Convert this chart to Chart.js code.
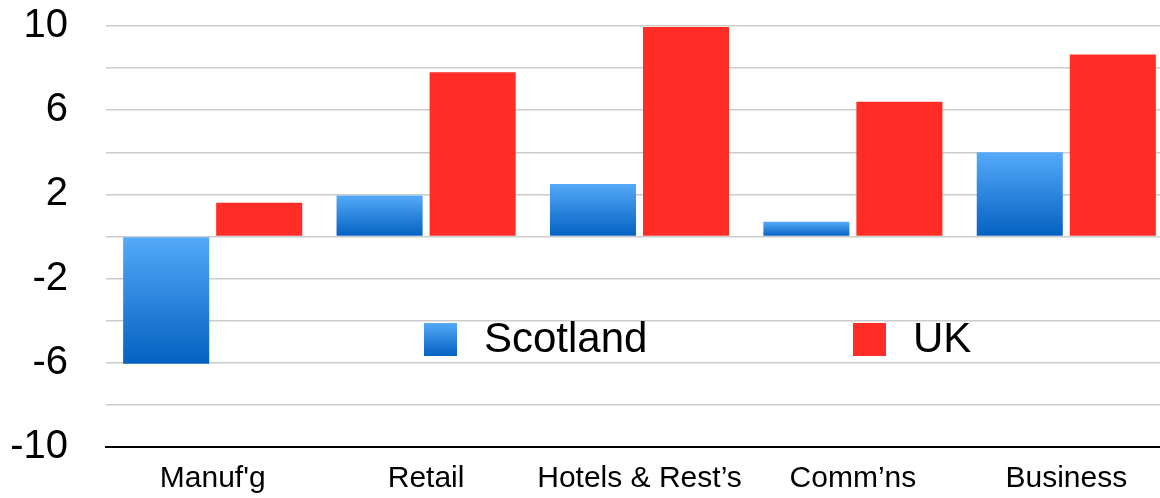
<!DOCTYPE html>
<html>
<head>
<meta charset="utf-8">
<script src="https://cdn.jsdelivr.net/npm/chart.js@4.4.0/dist/chart.umd.min.js"></script>
<style>
  html, body { margin: 0; padding: 0; background: #fff; overflow: hidden; }
  #wrap { width: 1173px; height: 498px; position: relative; }
</style>
</head>
<body>
<div id="wrap"><canvas id="chart"></canvas></div>
<script>
// ---------------- DATA ----------------
const categories = ["Manuf'g", 'Retail', 'Hotels & Rest\u2019s', 'Comm\u2019ns', 'Business'];
const scotland = [-6.05, 1.95, 2.5, 0.7, 4.0];
const uk = [1.6, 7.8, 9.95, 6.4, 8.65];
const yLabelled = [10, 6, 2, -2, -6, -10];

const FONT = "'Liberation Sans', Arial, Helvetica, sans-serif";
const RED = '#ff2d26';
const BLUE_TOP = '#55aaf9';
const BLUE_BOTTOM = '#0461c1';

// gradient light at top, dark at bottom of each bar
function blueGradient(ctx) {
  const chart = ctx.chart;
  if (!chart.chartArea || ctx.type !== 'data') return BLUE_BOTTOM;
  const y = chart.scales.y;
  const p0 = y.getPixelForValue(0);
  const p1 = y.getPixelForValue(ctx.raw);
  const g = chart.ctx.createLinearGradient(0, Math.min(p0, p1), 0, Math.max(p0, p1));
  g.addColorStop(0, BLUE_TOP);
  g.addColorStop(1, BLUE_BOTTOM);
  return g;
}

// legend drawn inside the plot area
const insideLegend = {
  id: 'insideLegend',
  afterDraw(chart) {
    const c = chart.ctx;
    const ca = chart.chartArea;
    const items = [
      { label: chart.data.datasets[0].label, x: ca.left + 318, fill: 'grad' },
      { label: chart.data.datasets[1].label, x: ca.left + 747, fill: RED }
    ];
    const top = 323, size = 33;
    c.save();
    items.forEach(it => {
      if (it.fill === 'grad') {
        const g = c.createLinearGradient(0, top, 0, top + size);
        g.addColorStop(0, BLUE_TOP);
        g.addColorStop(1, BLUE_BOTTOM);
        c.fillStyle = g;
      } else {
        c.fillStyle = it.fill;
      }
      c.fillRect(it.x, top, size, size);
      c.fillStyle = '#000';
      c.font = '42px ' + FONT;
      c.textBaseline = 'middle';
      c.textAlign = 'left';
      c.fillText(it.label, it.x + 60, top + size / 2 + 1);
    });
    c.restore();
  }
};

new Chart(document.getElementById('chart'), {
  type: 'bar',
  data: {
    labels: categories,
    datasets: [
      { label: 'Scotland', data: scotland, backgroundColor: blueGradient, borderWidth: 0 },
      { label: 'UK', data: uk, backgroundColor: RED, borderWidth: 0 }
    ]
  },
  options: {
    responsive: true,
    maintainAspectRatio: false,
    animation: false,
    categoryPercentage: 0.872,
    barPercentage: 0.925,
    layout: { padding: { top: 26, right: 0, bottom: 0, left: 0 } },
    plugins: {
      legend: { display: false },
      tooltip: { enabled: false }
    },
    scales: {
      x: {
        grid: { display: false, drawTicks: false },
        border: { display: true, color: '#000', width: 2 },
        ticks: { color: '#000', font: { family: FONT, size: 30 }, padding: 14, maxRotation: 0, autoSkip: false },
        afterFit: s => { s.height = 51; }
      },
      y: {
        min: -10,
        max: 10,
        // tick marks kept invisible, they only push the labels left
        grid: { color: '#cccccc', lineWidth: 1.5, drawTicks: true, tickLength: 38, tickColor: 'rgba(0,0,0,0)' },
        border: { display: false },
        ticks: {
          stepSize: 2,
          autoSkip: false,
          color: '#000',
          padding: 0,
          font: { family: FONT, size: 40 },
          callback: v => yLabelled.includes(v) ? String(v) : ''
        },
        afterFit: s => { s.width = 106; }
      }
    }
  },
  plugins: [insideLegend]
});
</script>
</body>
</html>
